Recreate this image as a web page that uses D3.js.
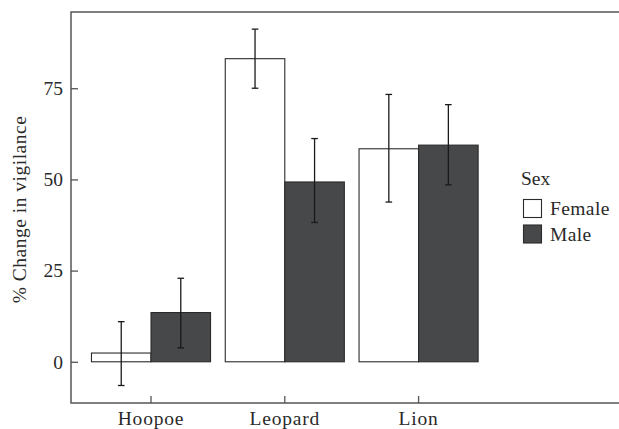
<!DOCTYPE html>
<html lang="en">
<head>
<meta charset="UTF-8">
<title>% Change in vigilance</title>
<script src="https://d3js.org/d3.v7.min.js"></script>
<style>
    body { margin: 0; background: #fff; }
    svg { display: block; }
    text { font-family: "Liberation Serif", "Times New Roman", serif; fill: #2a2a2a; }
</style>
</head>
<body>
<svg id="chart"></svg>
<script>
    // data
    const predators = ["Hoopoe", "Leopard", "Lion"];
    const sexes = ["Female", "Male"];
    const means = {
        Female: [2.4, 83.1, 58.4],
        Male:   [13.5, 49.3, 59.4]
    };
    const lower = {
        Female: [-6.5, 75.0, 43.8],
        Male:   [3.8, 38.2, 48.5]
    };
    const upper = {
        Female: [11.0, 91.2, 73.3],
        Male:   [22.9, 61.2, 70.5]
    };
    const yTicks = [0, 25, 50, 75];
    const fills = { Female: "#ffffff", Male: "#474849" };

    const W = 619, H = 429;
    const panel = { left: 71, top: 12, right: 619, bottom: 403 };
    const fontSize = 19.5;

    const svg = d3.select("#chart").attr("width", W).attr("height", H);

    const x = d3.scaleBand()
        .domain(predators)
        .range([panel.left, 498.6])
        .paddingInner(0.11)
        .paddingOuter(0.153);

    const xSex = d3.scaleBand()
        .domain(sexes)
        .range([0, x.bandwidth()]);

    const y = d3.scaleLinear()
        .domain([-11.3, 95.9])
        .range([panel.bottom, panel.top]);

    const rows = [];
    predators.forEach((p, i) => {
        sexes.forEach(s => {
            rows.push({ predator: p, sex: s, mean: means[s][i], lo: lower[s][i], hi: upper[s][i] });
        });
    });

    // bars
    svg.append("g").selectAll("rect")
        .data(rows)
        .join("rect")
        .attr("x", d => x(d.predator) + xSex(d.sex))
        .attr("width", xSex.bandwidth())
        .attr("y", d => y(Math.max(0, d.mean)))
        .attr("height", d => Math.abs(y(d.mean) - y(0)))
        .attr("fill", d => fills[d.sex])
        .attr("stroke", "#2b2b2b")
        .attr("stroke-width", 1.1);

    // error bars
    const cap = 3.3;
    const eb = svg.append("g").attr("stroke", "#1a1a1a").attr("stroke-width", 1.3);
    rows.forEach(d => {
        const cx = x(d.predator) + xSex(d.sex) + xSex.bandwidth() / 2;
        eb.append("line").attr("x1", cx).attr("x2", cx).attr("y1", y(d.lo)).attr("y2", y(d.hi));
        eb.append("line").attr("x1", cx - cap).attr("x2", cx + cap).attr("y1", y(d.hi)).attr("y2", y(d.hi));
        eb.append("line").attr("x1", cx - cap).attr("x2", cx + cap).attr("y1", y(d.lo)).attr("y2", y(d.lo));
    });

    // panel lines (left, top, bottom)
    svg.append("path")
        .attr("d", `M${panel.right},${panel.top}H${panel.left}V${panel.bottom}H${panel.right}`)
        .attr("fill", "none")
        .attr("stroke", "#555")
        .attr("stroke-width", 1.5);

    // y axis
    const yAxis = svg.append("g")
        .attr("transform", `translate(${panel.left},0)`)
        .call(d3.axisLeft(y).tickValues(yTicks).tickSize(-7).tickPadding(8));
    yAxis.select(".domain").remove();
    yAxis.selectAll(".tick line").attr("stroke", "#555").attr("stroke-width", 1.3);
    yAxis.selectAll(".tick text")
        .attr("font-size", fontSize)
        .attr("font-family", null)
        .attr("fill", null);

    // x axis
    const xAxis = svg.append("g")
        .attr("transform", `translate(0,${panel.bottom})`)
        .call(d3.axisBottom(x).tickSize(-7).tickPadding(8.5));
    xAxis.select(".domain").remove();
    xAxis.selectAll(".tick line").attr("stroke", "#555").attr("stroke-width", 1.3);
    xAxis.selectAll(".tick text")
        .attr("font-size", fontSize)
        .attr("letter-spacing", 0.8)
        .attr("font-family", null)
        .attr("fill", null);

    // y title
    svg.append("text")
        .attr("transform", `translate(26,${(panel.top + panel.bottom) / 2 + 2}) rotate(-90)`)
        .attr("text-anchor", "middle")
        .attr("font-size", fontSize)
        .attr("letter-spacing", 0.5)
        .text("% Change in vigilance");

    // legend
    const legend = svg.append("g").attr("transform", "translate(521,0)");
    legend.append("text")
        .attr("x", 0).attr("y", 185)
        .attr("font-size", fontSize)
        .text("Sex");
    sexes.forEach((s, i) => {
        const gy = 199.5 + i * 25.5;
        legend.append("rect")
            .attr("x", 2.5).attr("y", gy)
            .attr("width", 18).attr("height", 18)
            .attr("fill", fills[s])
            .attr("stroke", "#2b2b2b")
            .attr("stroke-width", 1.1);
        legend.append("text")
            .attr("x", 29).attr("y", gy + 15.5)
            .attr("font-size", fontSize)
            .attr("letter-spacing", 0.4)
            .text(s);
    });
</script>
</body>
</html>
